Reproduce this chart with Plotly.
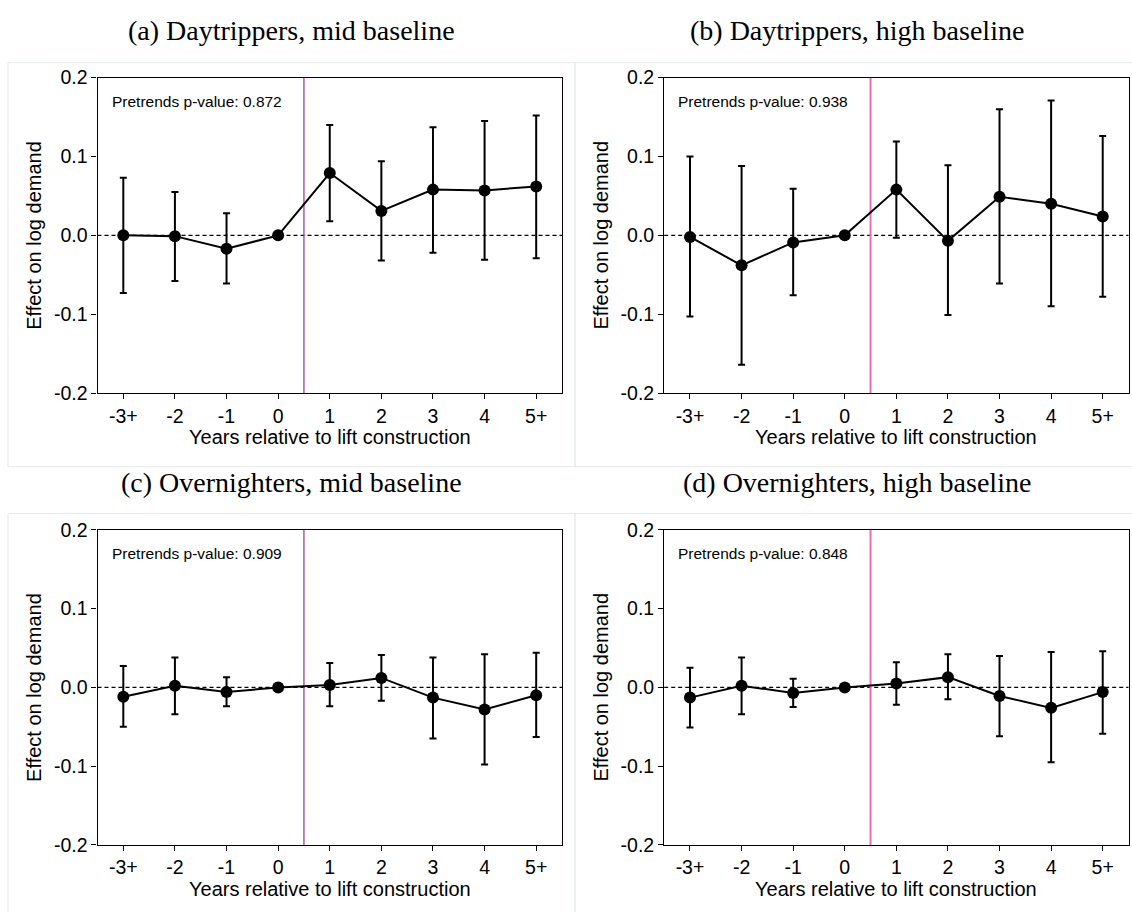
import plotly.graph_objects as go

# ---------------- data ----------------
cats = ["-3+", "-2", "-1", "0", "1", "2", "3", "4", "5+"]
x_pos = list(range(len(cats)))

y_tickvals = [-0.2, -0.1, 0.0, 0.1, 0.2]
y_ticktext = ["-0.2", "-0.1", "0.0", "0.1", "0.2"]

titles = ["(a) Daytrippers, mid baseline", "(b) Daytrippers, high baseline",
          "(c) Overnighters, mid baseline", "(d) Overnighters, high baseline"]
pvalues = ["0.872", "0.938", "0.909", "0.848"]

a_est = [0.000, -0.001, -0.017, 0.000, 0.079, 0.031, 0.058, 0.057, 0.062]
a_lo = [-0.073, -0.058, -0.061, 0.000, 0.018, -0.032, -0.022, -0.031, -0.029]
a_hi = [0.073, 0.055, 0.028, 0.000, 0.140, 0.094, 0.137, 0.145, 0.152]

b_est = [-0.002, -0.038, -0.009, 0.000, 0.058, -0.007, 0.049, 0.040, 0.024]
b_lo = [-0.103, -0.164, -0.076, 0.000, -0.003, -0.101, -0.061, -0.090, -0.078]
b_hi = [0.100, 0.088, 0.059, 0.000, 0.119, 0.089, 0.160, 0.171, 0.126]

c_est = [-0.012, 0.002, -0.006, 0.000, 0.003, 0.012, -0.013, -0.028, -0.010]
c_lo = [-0.050, -0.034, -0.024, 0.000, -0.024, -0.017, -0.065, -0.098, -0.063]
c_hi = [0.027, 0.038, 0.013, 0.000, 0.031, 0.041, 0.038, 0.042, 0.044]

d_est = [-0.013, 0.002, -0.007, 0.000, 0.005, 0.013, -0.011, -0.026, -0.006]
d_lo = [-0.051, -0.034, -0.025, 0.000, -0.022, -0.015, -0.062, -0.095, -0.059]
d_hi = [0.025, 0.038, 0.011, 0.000, 0.032, 0.042, 0.040, 0.045, 0.046]

panels = [(a_est, a_lo, a_hi), (b_est, b_lo, b_hi), (c_est, c_lo, c_hi), (d_est, d_lo, d_hi)]
event_x = 3.5  # lift construction between 0 and 1

# ---------------- layout geometry ----------------
W, H = 1132, 912
def px(x):
    return x / W
def py(y):
    return 1 - y / H

col_x = [(97.5, 562), (664.2, 1128.5)]
row_y = [(68.3, 391.5), (531.7, 854.5)]
vline_colors = ["#a83c92", "#e46fb4", "#a83c92", "#e46fb4"]
vline_widths = [1.3, 2, 1.3, 2]
title_cx = [291, 857]
title_cy = [20, 483]
frames = [(8, 53, 575, 467), (575, 53, 1140, 467), (8, 515, 575, 930), (575, 515, 1140, 930)]

AX_FONT = dict(family="Liberation Sans, Arial, sans-serif", size=20, color="black")
TICK_FONT = dict(family="Liberation Sans, Arial, sans-serif", size=19.5, color="black")

fig = go.Figure()
layout = dict(
    width=W, height=H,
    margin=dict(l=0, r=0, t=0, b=0),
    paper_bgcolor="white", plot_bgcolor="white",
    showlegend=False,
    shapes=[], annotations=[],
)

for i, (est, lo, hi) in enumerate(panels):
    r, c = divmod(i, 2)
    k = "" if i == 0 else str(i + 1)
    xa, ya = "x" + k, "y" + k
    x0, x1 = col_x[c]
    y0, y1 = row_y[r]

    err_plus = [h - e for h, e in zip(hi, est)]
    err_minus = [e - l for e, l in zip(est, lo)]

    fig.add_trace(go.Scatter(
        x=x_pos, y=est, xaxis=xa, yaxis=ya,
        mode="lines+markers",
        line=dict(color="black", width=2),
        marker=dict(color="black", size=12),
        error_y=dict(type="data", symmetric=False, array=err_plus, arrayminus=err_minus,
                     color="black", thickness=2, width=3.5),
        cliponaxis=False,
    ))

    layout["xaxis" + k] = dict(
        domain=[px(x0), px(x1)], anchor=ya,
        range=[-0.5, len(cats) - 0.5],
        tickmode="array", tickvals=x_pos, ticktext=cats,
        ticks="outside", ticklen=5, tickwidth=1, tickcolor="black",
        showline=True, linecolor="black", linewidth=1.2, mirror=True,
        showgrid=False, zeroline=False, tickfont=TICK_FONT,
    )
    layout["yaxis" + k] = dict(
        domain=[py(y1), py(y0)], anchor=xa,
        range=[-0.2, 0.2],
        tickmode="array", tickvals=y_tickvals, ticktext=y_ticktext,
        ticks="outside", ticklen=5, tickwidth=1, tickcolor="black",
        showline=True, linecolor="black", linewidth=1.2, mirror=True,
        showgrid=False, zeroline=False, tickfont=TICK_FONT,
    )

    # dashed zero line
    layout["shapes"].append(dict(
        type="line", xref=xa + " domain", yref=ya, x0=0, x1=1, y0=0, y1=0,
        line=dict(color="black", width=1.3, dash="4px,3px"), layer="below"))
    # vertical event line
    layout["shapes"].append(dict(
        type="line", xref=xa, yref=ya + " domain", x0=event_x, x1=event_x, y0=0, y1=1,
        line=dict(color=vline_colors[i], width=vline_widths[i]), layer="below"))
    # panel frame
    fx0, fy0, fx1, fy1 = frames[i]
    layout["shapes"].append(dict(
        type="rect", xref="paper", yref="paper",
        x0=px(fx0), x1=px(fx1), y0=py(fy1), y1=py(fy0),
        line=dict(color="#e6eaea", width=1), fillcolor="rgba(0,0,0,0)", layer="below"))

    # subfigure caption
    layout["annotations"].append(dict(
        text=titles[i], xref="paper", yref="paper",
        x=px(title_cx[c]), y=py(title_cy[r]), xanchor="center", yanchor="middle",
        showarrow=False,
        font=dict(family="Liberation Serif, Times New Roman, serif", size=28, color="black")))
    # pretrends text
    layout["annotations"].append(dict(
        text="Pretrends p-value: " + pvalues[i], xref="paper", yref="paper",
        x=px(x0 + 12), y=py(y0 + 24.5), xanchor="left", yanchor="middle",
        showarrow=False,
        font=dict(family="Liberation Sans, Arial, sans-serif", size=15.5, color="black")))
    # y-axis title
    layout["annotations"].append(dict(
        text="Effect on log demand", xref="paper", yref="paper",
        x=px(x0 - 63), y=py((y0 + y1) / 2), xanchor="center", yanchor="middle",
        textangle=-90, showarrow=False, font=AX_FONT))
    # x-axis title
    layout["annotations"].append(dict(
        text="Years relative to lift construction", xref="paper", yref="paper",
        x=px((x0 + x1) / 2), y=py(y1 + 45), xanchor="center", yanchor="middle",
        showarrow=False, font=AX_FONT))

fig.update_layout(**layout)
fig.write_html("out.html")
